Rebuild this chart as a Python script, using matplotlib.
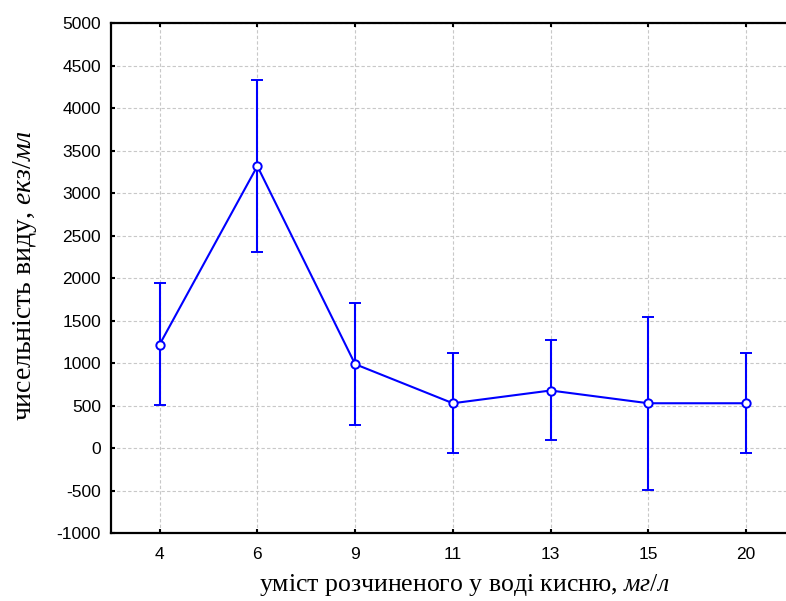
import numpy as np
import matplotlib.pyplot as plt

# oxygen content categories and species abundance (mean, upper and lower bounds)
oxygen = ['4', '6', '9', '11', '13', '15', '20']
mean = [1220, 3320, 990, 530, 680, 530, 530]
upper = [1945, 4335, 1710, 1120, 1270, 1548, 1120]
lower = [505, 2305, 275, -60, 95, -494, -60]

plt.rcParams['mathtext.fontset'] = 'custom'
plt.rcParams['mathtext.rm'] = 'Liberation Serif'
plt.rcParams['mathtext.it'] = 'Liberation Serif:italic'
plt.rcParams['axes.unicode_minus'] = False

fig = plt.figure(figsize=(7.86, 6.01), dpi=100)
ax = fig.add_axes([110.7 / 786, 1 - 533.3 / 601, (795 - 110.7) / 786, (533.3 - 23.3) / 601])

x = np.arange(len(oxygen))
m = np.array(mean)
yerr = [m - np.array(lower), np.array(upper) - m]

ax.errorbar(x, m, yerr=yerr, color='#0000ff', lw=1.5, elinewidth=1.5,
            capsize=4, capthick=1.5, marker='o', ms=6, mfc='white',
            mec='#0000ff', mew=1.4, zorder=3)

ax.set_xlim(-0.5, len(oxygen) - 0.5)
ax.set_ylim(-1000, 5000)
ax.set_yticks(np.arange(-1000, 5001, 500))
ax.set_xticks(x)
ax.set_xticklabels(oxygen)

ax.grid(True, color='#c8c8c8', ls='--', lw=0.8, dashes=(3, 2))
ax.set_axisbelow(True)

for side in ['left', 'top', 'bottom']:
    ax.spines[side].set_linewidth(1.6)
ax.spines['right'].set_visible(False)

ax.tick_params(axis='both', direction='in', length=3, width=1.5, top=True,
               labelsize=12.5, labelfontfamily='Liberation Sans')
ax.tick_params(axis='x', pad=10)
ax.tick_params(axis='y', pad=7)

fig.text(464 / 786, 1 - 585 / 601, 'уміст розчиненого у воді кисню, $\\mathit{мг/л}$',
         family='Liberation Serif', fontsize=18.5, ha='center', va='center')
fig.text(25 / 786, 1 - 275 / 601, 'чисельність виду, $\\mathit{екз/мл}$',
         family='Liberation Serif', fontsize=20, ha='center', va='center', rotation=90)

fig.savefig('out.png', dpi=100)
